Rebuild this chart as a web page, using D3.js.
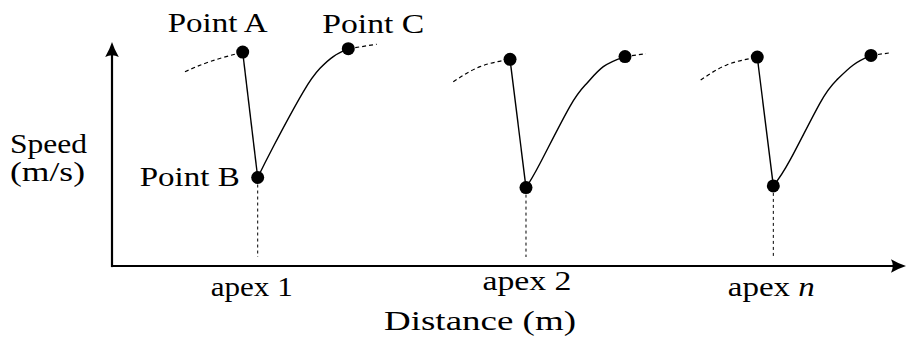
<!DOCTYPE html>
<html>
<head>
<meta charset="utf-8">
<script src="https://cdn.jsdelivr.net/npm/d3@7"></script>
<style>
  html, body { margin: 0; padding: 0; background: #fff; }
  svg { display: block; }
</style>
</head>
<body>
<svg id="chart" width="908" height="347"></svg>
<script>
// Speed profile through a sequence of corners: distance (m), speed (m/s)
const apexNames = ["apex 1", "apex 2", "apex n"];

// dashed lead-in towards the braking point
const approach = [
  [[91.9, 34.7], [123.4, 36.5]],
  [[429.8, 32.9], [463.5, 35.6]],
  [[741.4, 33.2], [774.2, 35.9]]
];
// Point A: braking starts
const pointA = [[164.6, 38.2], [501.3, 36.9], [812.7, 37.3]];
// Point B: minimum speed at the apex
const pointB = [[183.5, 15.8], [521.4, 14.0], [832.9, 14.3]];
// acceleration phase between B and C
const acceleration = [
  [[203.1, 21.3], [240.9, 31.1], [262.0, 35.3], [278.7, 37.4]],
  [[539.0, 18.3], [576.8, 28.5], [597.9, 32.6], [618.8, 35.6]],
  [[853.9, 18.9], [891.7, 29.1], [912.7, 33.2], [933.6, 35.9]]
];
// Point C: back to straight-line speed
const pointC = [[297.6, 38.8], [646.1, 37.4], [955.9, 37.6]];
// dashed continuation after C
const exitTail = [[333.4, 39.6], [672.5, 37.9], [982.0, 38.1]];

const pointLabels = ["Point A", "Point B", "Point C"];
const xTitle = "Distance (m)";
const yTitle = ["Speed", "(m/s)"];

const FONT = "'Liberation Serif', 'DejaVu Serif', Lato, 'Noto Sans', sans-serif";

const svg = d3.select("#chart");

const x = d3.scaleLinear().domain([0, 1000]).range([112, 906]);
const y = d3.scaleLinear().domain([0, 40]).range([266, 42]);

const line = d3.line().x(d => x(d[0])).y(d => y(d[1]));
const smooth = d3.line().x(d => x(d[0])).y(d => y(d[1])).curve(d3.curveNatural);

// axes with arrow heads
const axisW = 2.2;
svg.append("line")
  .attr("x1", x(0)).attr("y1", y(0)).attr("x2", x(1000) - 6).attr("y2", y(0))
  .attr("stroke", "#000").attr("stroke-width", axisW);
svg.append("line")
  .attr("x1", x(0)).attr("y1", y(0) + axisW / 2).attr("x2", x(0)).attr("y2", y(40) + 6)
  .attr("stroke", "#000").attr("stroke-width", axisW);

const arrow = "M0,0 Q-7,-2.2 -15,-6.8 Q-11.5,0 -15,6.8 Q-7,2.2 0,0Z";
svg.append("path").attr("d", arrow)
  .attr("transform", `translate(${x(1000)},${y(0)})`);
svg.append("path").attr("d", arrow)
  .attr("transform", `translate(${x(0)},${y(40)}) rotate(-90)`);

// one speed trace per corner
apexNames.forEach((name, i) => {
  const g = svg.append("g");

  g.append("path")
    .attr("d", smooth([...approach[i], pointA[i]]))
    .attr("fill", "none").attr("stroke", "#000").attr("stroke-width", 1.2)
    .attr("stroke-dasharray", "4,3");

  g.append("path")
    .attr("d", line([pointA[i], pointB[i]]))
    .attr("fill", "none").attr("stroke", "#000").attr("stroke-width", 1.4);

  g.append("path")
    .attr("d", smooth([pointB[i], ...acceleration[i], pointC[i]]))
    .attr("fill", "none").attr("stroke", "#000").attr("stroke-width", 1.4);

  g.append("path")
    .attr("d", line([pointC[i], exitTail[i]]))
    .attr("fill", "none").attr("stroke", "#000").attr("stroke-width", 1.2)
    .attr("stroke-dasharray", "4,3");

  g.append("line")
    .attr("x1", x(pointB[i][0])).attr("x2", x(pointB[i][0]))
    .attr("y1", y(pointB[i][1]) + 7).attr("y2", y(0) - 9)
    .attr("stroke", "#000").attr("stroke-width", 1).attr("stroke-dasharray", "3,3");

  [pointA[i], pointB[i], pointC[i]].forEach(p => {
    g.append("circle").attr("cx", x(p[0])).attr("cy", y(p[1])).attr("r", 6.5).attr("fill", "#000");
  });
});

// text helper, stretched to the given width
function label(str, px, base, width, anchor) {
  return svg.append("text").text(str)
    .attr("x", px).attr("y", base)
    .attr("font-family", FONT)
    .attr("font-size", 27)
    .attr("fill", "#000")
    .attr("text-anchor", anchor || "middle")
    .attr("textLength", width)
    .attr("lengthAdjust", "spacingAndGlyphs");
}

// Point labels around the first corner
label(pointLabels[0], x(pointA[0][0]) - 25, y(pointA[0][1]) - 20, 100);
label(pointLabels[1], x(pointB[0][0]) - 18, y(pointB[0][1]) + 8, 100, "end");
label(pointLabels[2], x(pointC[0][0]) + 25, y(pointC[0][1]) - 16, 102);

// apex tick labels
const apexBase = [296, 290, 296];
const apexWidth = [82, 89, 87];
const apexShift = [-6, 1, -2];
apexNames.forEach((name, i) => {
  const t = label(null, x(pointB[i][0]) + apexShift[i], apexBase[i], apexWidth[i]);
  const parts = name.split(" ");
  t.append("tspan").text(parts[0] + " ");
  const num = t.append("tspan").text(parts[1]);
  if (isNaN(+parts[1])) num.attr("font-style", "italic");
});

// axis titles
label(xTitle, 480, 330, 192);
label(yTitle[0], 10, 153, 77, "start");
label(yTitle[1], 10, 181, 75, "start");
</script>
</body>
</html>
